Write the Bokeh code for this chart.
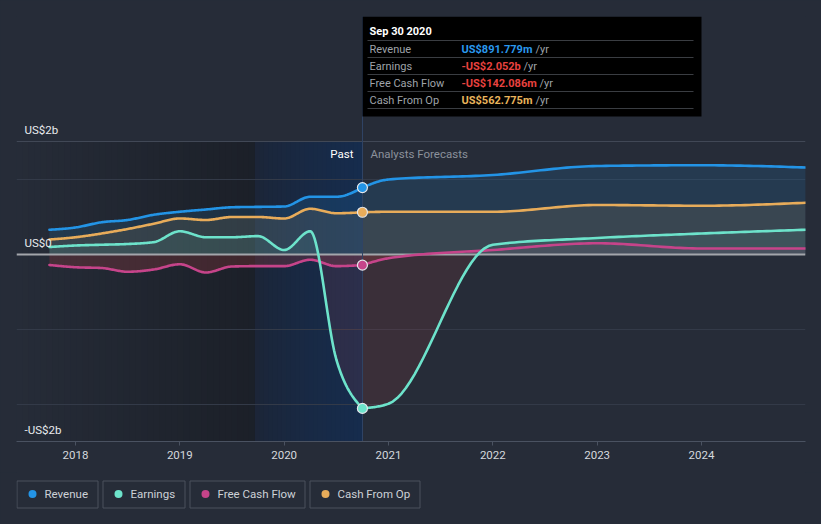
import numpy as np
from bokeh.plotting import figure
from bokeh.models import Range1d, FixedTicker, Grid
from bokeh.layouts import column
from bokeh.embed import file_html
from bokeh.resources import INLINE
from bokeh.core.properties import value

# ---------------- data (US$ billions) ----------------
past_dates = [2017.75, 2018.0, 2018.25, 2018.5, 2018.75, 2019.0, 2019.25,
              2019.5, 2019.75, 2020.0, 2020.25, 2020.5, 2020.75]
revenue_past = [0.33, 0.36, 0.43, 0.46, 0.53, 0.57, 0.60, 0.63, 0.635, 0.64, 0.77, 0.77, 0.892]
earnings_past = [0.10, 0.12, 0.13, 0.14, 0.165, 0.31, 0.23, 0.23, 0.245, 0.06, 0.31, -1.40, -2.052]
fcf_past = [-0.14, -0.17, -0.18, -0.23, -0.20, -0.13, -0.24, -0.16, -0.155, -0.155, -0.07, -0.155, -0.142]
cfo_past = [0.20, 0.23, 0.28, 0.34, 0.41, 0.48, 0.46, 0.50, 0.50, 0.48, 0.61, 0.55, 0.563]

fc_dates = [2020.75, 2021.0, 2022.0, 2023.0, 2024.0, 2025.0]
revenue_fc = [0.892, 1.00, 1.06, 1.18, 1.19, 1.16]
earnings_fc = [-2.052, -1.99, 0.13, 0.22, 0.28, 0.33]
fcf_fc = [-0.142, -0.05, 0.06, 0.15, 0.08, 0.08]
cfo_fc = [0.563, 0.57, 0.57, 0.66, 0.65, 0.69]

series_names = ["Revenue", "Earnings", "Free Cash Flow", "Cash From Op"]
series_colors = ["#2394e6", "#6de3cb", "#c6448a", "#e8ac5a"]

xtick_years = [2018, 2019, 2020, 2021, 2022, 2023, 2024]
ytick_labels = ["US$2b", "US$0", "-US$2b"]
grid_vals = [1.0, -1.0, -2.0]
top_val = 1.5

tooltip_title = "Sep 30 2020"
tooltip_values = ["US$891.779m", "-US$2.052b", "-US$142.086m", "US$562.775m"]
tooltip_value_colors = ["#2a98ee", "#e8423f", "#e8423f", "#e9b45c"]

now_date = 2020.75
last_year_start = 2019.72

# ---------------- layout helpers ----------------
BG = "#262c38"
X0, X1 = 2017.4345, 2024.9968
Y0, Y1 = -2.4933, 3.1733
FL, FT, FW, FH = 16, 16, 789, 425


def px_x(px):
    return X0 + (px - FL) / FW * (X1 - X0)


def px_y(py):
    return Y1 - (py - FT) / FH * (Y1 - Y0)


def dx(npx):
    return npx / FW * (X1 - X0)


def monotone(xs, ys, n=24):
    x = np.asarray(xs, float)
    y = np.asarray(ys, float)
    h = np.diff(x)
    s = np.diff(y) / h
    m = np.zeros_like(y)
    for i in range(1, len(x) - 1):
        p_ = (s[i - 1] * h[i] + s[i] * h[i - 1]) / (h[i - 1] + h[i])
        m[i] = (np.sign(s[i - 1]) + np.sign(s[i])) * min(abs(s[i - 1]), abs(s[i]), 0.5 * abs(p_))
    m[0] = (3 * s[0] - m[1]) / 2 if len(x) > 2 else s[0]
    m[-1] = (3 * s[-1] - m[-2]) / 2 if len(x) > 2 else s[-1]
    ox, oy = [x[0]], [y[0]]
    t = np.linspace(0, 1, n + 1)[1:]
    for i in range(len(x) - 1):
        h00 = 2 * t**3 - 3 * t**2 + 1
        h10 = t**3 - 2 * t**2 + t
        h01 = -2 * t**3 + 3 * t**2
        h11 = t**3 - t**2
        ox.extend(x[i] + t * h[i])
        oy.extend(h00 * y[i] + h10 * h[i] * m[i] + h01 * y[i + 1] + h11 * h[i] * m[i + 1])
    return np.array(ox), np.array(oy)


def hexmix(c1, c2, a):
    c1 = np.array([int(c1[i:i + 2], 16) for i in (1, 3, 5)], float)
    c2 = np.array([int(c2[i:i + 2], 16) for i in (1, 3, 5)], float)
    c = c1 * (1 - a) + c2 * a
    return "#%02x%02x%02x" % tuple(int(round(v)) for v in c)


def hide_grids(fig):
    for r in fig.center:
        if isinstance(r, Grid):
            r.visible = False


# ---------------- main figure ----------------
p = figure(width=821, height=472, x_range=Range1d(X0, X1), y_range=Range1d(Y0, Y1),
           output_backend="svg", toolbar_location=None, y_axis_location=None,
           min_border_left=16, min_border_right=16, min_border_top=16, min_border_bottom=31)
p.background_fill_color = BG
p.border_fill_color = BG
p.outline_line_color = None
hide_grids(p)

# past gradient (darkening towards last year)
N = 40
edges = np.linspace(X0, last_year_start, N + 1)
cols = [hexmix(BG, "#000000", 0.28 * (i + 0.5) / N) for i in range(N)]
p.quad(left=edges[:-1], right=edges[1:] + dx(0.8), top=top_val, bottom=Y0,
       fill_color=cols, line_color=None)
# last-year highlight (blue gradient)
M = 24
edges2 = np.linspace(last_year_start, now_date, M + 1)
cols2 = [hexmix("#1c2536", "#162c4d", ((i + 0.5) / M) ** 0.7) for i in range(M)]
p.quad(left=edges2[:-1], right=np.minimum(edges2[1:] + dx(0.8), now_date), top=top_val, bottom=Y0,
       fill_color=cols2, line_color=None)

# grid lines
p.hspan(y=grid_vals, line_color="#333a48", line_width=1)
p.hspan(y=[top_val], line_color="#414856", line_width=1)

# series curves
past = [revenue_past, earnings_past, fcf_past, cfo_past]
fc = [revenue_fc, earnings_fc, fcf_fc, cfo_fc]
curves = []
for ps, fs in zip(past, fc):
    x1, y1 = monotone(past_dates, ps)
    x2, y2 = monotone(fc_dates, fs)
    curves.append((x1, y1, x2, y2))

pos_alpha = [0.14, 0.09, 0.08, 0.11]
neg_alpha = [0.12, 0.11, 0.18, 0.12]
fill_order = [0, 3, 1, 2]
for k in fill_order:
    x1, y1, x2, y2 = curves[k]
    xx = np.concatenate([x1, x2[1:]])
    yy = np.concatenate([y1, y2[1:]])
    if yy.max() > 0:
        p.varea(x=xx, y1=0, y2=np.maximum(yy, 0), fill_color=series_colors[k], fill_alpha=pos_alpha[k])
    if yy.min() < 0:
        p.varea(x=xx, y1=0, y2=np.minimum(yy, 0), fill_color="#e8484a", fill_alpha=neg_alpha[k])

# zero line
p.hspan(y=[0], line_color="#a3a6ab", line_width=2)

# crosshair
p.vspan(x=[now_date], line_color="#2f4364", line_width=1)

for k in [2, 1, 3, 0]:
    x1, y1, x2, y2 = curves[k]
    p.line(x1, y1, line_color=series_colors[k], line_width=2.6, line_cap="round", line_join="round")
    p.line(x2, y2, line_color=series_colors[k], line_width=2.6, line_cap="round", line_join="round")

p.scatter(x=[now_date] * 4, y=[s[-1] for s in past], size=10, marker="circle",
          fill_color=series_colors, line_color="#e4e6ea", line_width=1.2)

# y labels
p.text(x=[px_x(24)] * 3, y=[top_val, 0, Y0], y_offset=[-12, -12, -12], text=ytick_labels,
       text_font=value("Roboto"), text_font_size="11.5px", text_color="#e9ebee",
       text_baseline="middle", text_align="left")

# past / forecast labels
p.text(x=[now_date], y=[px_y(153)], x_offset=-9, text=["Past"], text_font=value("Roboto"),
       text_font_size="11.5px", text_color="#ffffff", text_baseline="middle", text_align="right")
p.text(x=[now_date], y=[px_y(153)], x_offset=8, text=["Analysts Forecasts"], text_font=value("Roboto"),
       text_font_size="11.5px", text_color="#8b919b", text_baseline="middle", text_align="left")

# tooltip box
p.quad(left=[px_x(362)], right=[px_x(701)], top=[px_y(16)], bottom=[px_y(116)],
       fill_color="#000000", line_color=None)
sep_y = [40, 57, 74, 91, 108]
p.segment(x0=[px_x(367)] * 5, x1=[px_x(693)] * 5, y0=[px_y(v) for v in sep_y], y1=[px_y(v) for v in sep_y],
          line_color="#3a3d42", line_width=1)
p.text(x=[px_x(369)], y=[px_y(31)], text=[tooltip_title], text_font=value("Roboto"),
       text_font_style="bold", text_font_size="11px", text_color="#ffffff", text_baseline="middle")
row_y = [px_y(v) for v in [48.5, 65.5, 82.5, 99.5]]
p.text(x=[px_x(369)] * 4, y=row_y, text=series_names, text_font=value("Roboto"),
       text_font_size="11px", text_color="#9fa3a9", text_baseline="middle")
p.text(x=[px_x(461)] * 4, y=row_y, text=tooltip_values, text_font=value("Roboto"),
       text_font_style="bold", text_font_size="11px", text_color=tooltip_value_colors, text_baseline="middle")
p.text(x=[px_x(v) for v in [535, 523, 539, 535]], y=row_y, text=["/yr"] * 4, text_font=value("Roboto"),
       text_font_size="11px", text_color="#9fa3a9", text_baseline="middle")

# x axis
p.xaxis.ticker = FixedTicker(ticks=xtick_years)
p.xaxis.major_label_overrides = {y: str(y) for y in xtick_years}
p.xaxis.axis_line_color = "#4a5261"
p.xaxis.major_tick_line_color = "#4a5261"
p.xaxis.major_tick_in = 0
p.xaxis.major_tick_out = 4
p.xaxis.minor_tick_line_color = None
p.xaxis.major_label_text_color = "#d5d8dd"
p.xaxis.major_label_text_font = "Roboto"
p.xaxis.major_label_text_font_size = "11.5px"
p.xaxis.major_label_standoff = 5

# ---------------- legend figure ----------------
# frame aligned with main frame (16..805), coordinates in page pixels
leg = figure(width=821, height=52, x_range=Range1d(16, 805), y_range=Range1d(524, 472),
             output_backend="svg", toolbar_location=None, x_axis_location=None, y_axis_location=None,
             min_border_left=16, min_border_right=16, min_border_top=0, min_border_bottom=0)
leg.background_fill_color = BG
leg.border_fill_color = BG
leg.outline_line_color = None
hide_grids(leg)

box_l = [16.5, 102.5, 189.5, 309.5]
box_r = [97.5, 184.5, 304.5, 419.5]
leg.quad(left=box_l, right=box_r, top=480.5, bottom=507.5, fill_alpha=0,
         line_color="#4a515d", line_width=1)
leg.scatter(x=[32, 118, 205, 325], y=[493.5] * 4, size=8, marker="circle",
            fill_color=series_colors, line_color=None)
leg.text(x=[44, 130, 217, 337], y=[493.5] * 4, text=series_names, text_font=value("Roboto"),
         text_font_size="11.5px", text_color="#cdd1d7", text_baseline="middle", text_align="left")

layout = column(p, leg, spacing=0)
html = file_html(layout, INLINE, title="chart")
html = html.replace("<body>", '<body style="background-color:#262c38">')
open("out.html", "w").write(html)
